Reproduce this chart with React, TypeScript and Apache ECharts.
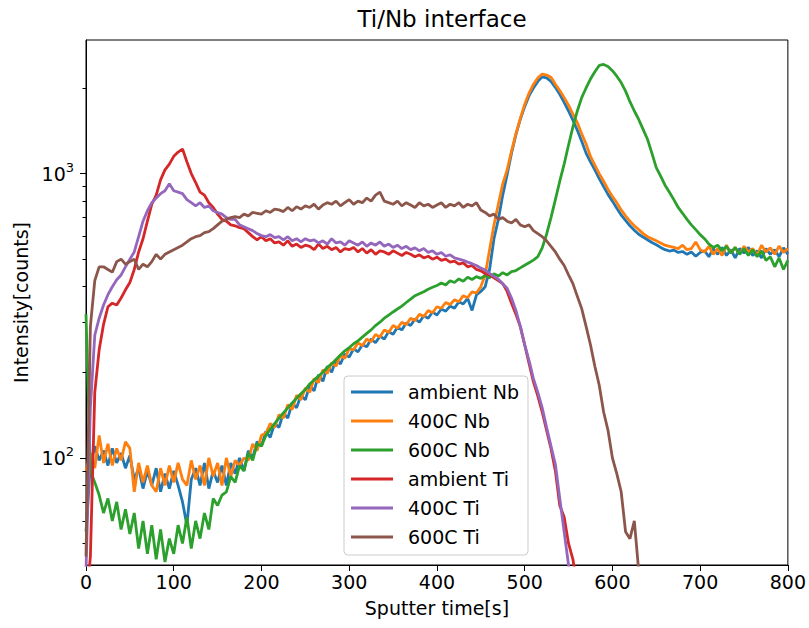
import React, { useEffect, useRef } from "react";
import * as echarts from "echarts";

// ---- data ----
const TIMES = [
  0, 5, 10, 15, 20, 25, 30, 35, 40, 45, 50, 55, 60, 65, 70, 75, 80, 85, 90, 95, 100,
  105, 110, 115, 120, 125, 130, 135, 140, 145, 150, 155, 160, 165, 170, 175, 180, 185, 190, 195, 200,
  205, 210, 215, 220, 225, 230, 235, 240, 245, 250, 255, 260, 265, 270, 275, 280, 285, 290, 295, 300,
  305, 310, 315, 320, 325, 330, 335, 340, 345, 350, 355, 360, 365, 370, 375, 380, 385, 390, 395, 400,
  405, 410, 415, 420, 425, 430, 435, 440, 445, 450, 455, 460, 465, 470, 475, 480, 485, 490, 495, 500,
  505, 510, 515, 520, 525, 530, 535, 540, 545, 550, 555, 560, 565, 570, 575, 580, 585, 590, 595, 600,
  605, 610, 615, 620, 625, 630, 635, 640, 645, 650, 655, 660, 665, 670, 675, 680, 685, 690, 695, 700,
  705, 710, 715, 720, 725, 730, 735, 740, 745, 750, 755, 760, 765, 770, 775, 780, 785, 790, 795, 800,
];

const AMBIENT_NB = [
  55, 95, 110, 98, 106, 94, 108, 96, 104, 92, 102, 84, 92, 78, 90, 80, 92, 76, 88, 78, 90,
  80, 70, 58, 84, 92, 80, 96, 78, 90, 82, 94, 80, 96, 88, 100, 90, 106, 100, 114, 110,
  124, 118, 132, 128, 144, 138, 156, 150, 166, 160, 180, 172, 196, 186, 210, 200, 222, 214, 232, 226,
  242, 236, 250, 246, 262, 254, 268, 262, 278, 272, 288, 282, 298, 292, 308, 300, 316, 310, 326, 318,
  334, 328, 342, 336, 354, 348, 364, 330, 374, 385, 400, 460, 590, 690, 840, 990, 1180, 1370, 1550, 1720,
  1880, 2000, 2110, 2190, 2170, 2110, 2010, 1900, 1780, 1660, 1540, 1420, 1300, 1180, 1100, 1030, 960, 900, 845, 800,
  755, 715, 685, 655, 632, 612, 598, 585, 572, 562, 550, 540, 534, 538, 528, 532, 520, 530, 512, 528,
  535, 510, 545, 520, 550, 515, 540, 505, 545, 525, 550, 515, 535, 505, 545, 520, 540, 510, 548, 520,
];

const NB_400C = [
  90, 104, 92, 120, 96, 112, 94, 108, 98, 114, 108, 76, 96, 82, 94, 80, 76, 92, 80, 94, 82,
  96, 84, 80, 98, 84, 94, 80, 100, 86, 96, 80, 100, 86, 98, 94, 100, 98, 112, 106, 120,
  122, 132, 128, 142, 138, 154, 148, 166, 160, 176, 170, 190, 184, 204, 198, 216, 210, 230, 224, 242,
  240, 254, 248, 262, 256, 272, 266, 282, 276, 292, 286, 300, 294, 310, 304, 320, 314, 330, 324, 340,
  336, 352, 346, 360, 354, 372, 366, 384, 380, 400, 440, 540, 660, 780, 920, 1030, 1200, 1380, 1560, 1750,
  1920, 2060, 2170, 2240, 2220, 2180, 2060, 1960, 1850, 1740, 1620, 1510, 1380, 1270, 1150, 1070, 1000, 940, 880, 830,
  790, 745, 710, 680, 655, 635, 615, 600, 590, 580, 570, 560, 555, 550, 545, 560, 540, 545, 575, 540,
  530, 555, 520, 545, 515, 560, 525, 550, 520, 555, 530, 545, 515, 560, 530, 548, 520, 556, 528, 545,
];

const NB_600C = [
  320, 90, 82, 74, 64, 72, 60, 70, 56, 66, 54, 64, 48, 60, 46, 58, 44, 56, 43, 52, 46,
  58, 50, 62, 48, 60, 52, 64, 56, 72, 68, 74, 76, 86, 82, 94, 90, 104, 98, 112, 110,
  120, 126, 132, 138, 144, 150, 156, 162, 168, 174, 182, 188, 194, 200, 208, 214, 222, 230, 238, 244,
  252, 258, 266, 274, 282, 292, 300, 310, 318, 326, 334, 342, 352, 362, 372, 378, 384, 392, 398, 404,
  412, 406, 420, 414, 426, 418, 432, 424, 434, 428, 438, 430, 444, 436, 448, 440, 452, 456, 466, 476,
  486, 496, 510, 548, 612, 700, 810, 940, 1080, 1260, 1460, 1660, 1850, 2000, 2150, 2280, 2400, 2420, 2380, 2300,
  2200, 2090, 1950, 1790, 1660, 1550, 1430, 1320, 1180, 1050, 980, 910, 860, 810, 760, 725, 690, 660, 635, 610,
  590, 565, 550, 560, 535, 555, 525, 550, 520, 545, 515, 540, 510, 535, 495, 510, 470, 505, 460, 495,
];

const AMBIENT_TI = [
  30, 45, 170, 240, 295, 340, 350, 345, 365, 390, 414, 460, 530, 590, 680, 780, 840, 950, 1030, 1080, 1150,
  1190, 1220, 1100, 1000, 930, 860, 840, 790, 760, 720, 690, 680, 660, 655, 645, 640, 620, 600, 585, 600,
  580, 590, 570, 575, 560, 580, 555, 565, 550, 560, 555, 540, 565, 545, 555, 540, 550, 530, 545, 540,
  550, 530, 545, 525, 540, 520, 535, 530, 520, 535, 525, 515, 528, 520, 510, 518, 505, 512, 500, 508,
  495, 500, 488, 492, 480, 485, 470, 475, 460, 455, 445, 440, 430, 420, 410, 385, 350, 320, 290, 250,
  215, 185, 165, 145, 125, 108, 90, 68, 62, 50, 44, 35, 30,
];

const TI_400C = [
  40, 150, 270, 310, 345, 375, 400, 423, 440, 470, 500, 530, 600, 680, 740, 790, 820, 850, 870, 920, 870,
  860, 850, 810, 790, 770, 790, 760, 770, 740, 730, 720, 700, 690, 690, 660, 650, 640, 630, 615, 605,
  600, 610, 595, 600, 585, 600, 580, 590, 575, 590, 580, 585, 570, 580, 565, 590, 570, 575, 560, 580,
  570, 560, 575, 555, 570, 560, 575, 555, 565, 550, 560, 545, 555, 540, 548, 535, 545, 528, 535, 520,
  528, 512, 518, 505, 500, 495, 488, 482, 475, 465, 458, 445, 435, 425, 410, 395, 365, 330, 290, 250,
  220, 190, 170, 150, 128, 110, 95, 72, 55, 42, 30,
];

const TI_600C = [
  45, 290, 420, 470, 470, 460, 450, 490, 500, 480, 490, 500, 460, 480, 470, 490, 520, 500, 520, 530, 540,
  550, 560, 575, 590, 600, 605, 620, 625, 640, 660, 680, 690, 700, 705, 700, 720, 710, 730, 725, 720,
  740, 730, 750, 745, 735, 760, 740, 765, 750, 770, 760, 780, 750, 775, 790, 780, 800, 770, 790, 810,
  780, 800, 790, 820, 800, 840, 860, 800, 790, 780, 800, 770, 790, 775, 760, 790, 770, 780, 760, 775,
  790, 760, 780, 770, 790, 760, 780, 770, 790, 745, 730, 710, 720, 690, 700, 680, 670, 690, 660, 650,
  660, 630, 615, 600, 580, 555, 530, 500, 475, 440, 410, 370, 335, 290, 250, 210, 180, 145, 125, 100,
  88, 76, 55, 52, 60, 40, 30,
];

const SERIES_NAMES = ["ambient Nb", "400C Nb", "600C Nb", "ambient Ti", "400C Ti", "600C Ti"];
const SERIES_VALUES = [AMBIENT_NB, NB_400C, NB_600C, AMBIENT_TI, TI_400C, TI_600C];
const COLORS = ["#1f77b4", "#ff7f0e", "#2ca02c", "#d62728", "#9467bd", "#8c564b"];

const X_TICKS = { min: 0, max: 800, interval: 100 };
const Y_RANGE = { min: 42, max: 2950 };
const Y_MAJOR_TICKS = [100, 1000];
const Y_MINOR_TICKS = [50, 60, 70, 80, 90, 200, 300, 400, 500, 600, 700, 800, 900, 2000];

const FONT = "'DejaVu Sans', sans-serif";

export default function App() {
  const ref = useRef<HTMLDivElement>(null);

  useEffect(() => {
    if (!ref.current) return;
    const chart = echarts.init(ref.current, undefined, { renderer: "svg" });

    const series = SERIES_NAMES.map((name, k) => ({
      name,
      type: "line",
      yAxisIndex: 0,
      symbol: "none",
      color: COLORS[k],
      lineStyle: { width: 2.8, color: COLORS[k] },
      data: SERIES_VALUES[k].map((v, i) => [TIMES[i], v]),
    }));

    const axisLineStyle = { color: "#000", width: 1 };
    const textBase = { fontFamily: FONT, fontSize: 19, color: "#000" };

    chart.setOption({
      animation: false,
      backgroundColor: "#ffffff",
      title: {
        text: "Ti/Nb interface",
        left: 437,
        top: 2,
        textAlign: "center",
        textStyle: { fontFamily: FONT, fontSize: 23, fontWeight: "normal", color: "#000" },
      },
      grid: {
        left: 86,
        top: 40,
        right: 20,
        bottom: 63,
        show: true,
        borderColor: "#000",
        borderWidth: 1,
        backgroundColor: "transparent",
      },
      legend: {
        orient: "vertical",
        left: 344,
        top: 376,
        padding: [6, 9, 8, 7],
        itemWidth: 42,
        itemHeight: 3,
        itemGap: 9,
        icon: "rect",
        backgroundColor: "rgba(255,255,255,0.8)",
        borderColor: "#cccccc",
        borderWidth: 1,
        borderRadius: 4,
        textStyle: { ...textBase, padding: [0, 0, 0, 10], lineHeight: 20 },
        data: SERIES_NAMES,
      },
      xAxis: {
        type: "value",
        min: X_TICKS.min,
        max: X_TICKS.max,
        interval: X_TICKS.interval,
        axisLine: { show: true, lineStyle: axisLineStyle },
        axisTick: { show: true, length: 6, lineStyle: axisLineStyle },
        axisLabel: { ...textBase, margin: 7 },
        splitLine: { show: false },
        name: "Sputter time[s]",
        nameLocation: "middle",
        nameGap: 33,
        nameTextStyle: textBase,
      },
      yAxis: [
        {
          type: "log",
          logBase: 10,
          min: Y_RANGE.min,
          max: Y_RANGE.max,
          position: "left",
          offset: 0,
          axisLine: { show: true, lineStyle: axisLineStyle },
          axisTick: { show: true, length: 6, lineStyle: axisLineStyle, customValues: Y_MAJOR_TICKS },
          axisLabel: {
            customValues: Y_MAJOR_TICKS,
            margin: 12,
            formatter: (v: number) => `{b|10}{s|${Math.round(Math.log10(v))}}`,
            rich: {
              b: { fontFamily: FONT, fontSize: 19, color: "#000" },
              s: { fontFamily: FONT, fontSize: 13, color: "#000", padding: [0, 0, 12, 0] },
            },
          },
          splitLine: { show: false },
          minorTick: { show: false },
          name: "Intensity[counts]",
          nameLocation: "middle",
          nameGap: 52,
          nameTextStyle: textBase,
        },
        {
          type: "log",
          logBase: 10,
          min: Y_RANGE.min,
          max: Y_RANGE.max,
          position: "left",
          offset: 0,
          axisLine: { show: false },
          axisTick: { show: true, length: 3.5, lineStyle: axisLineStyle, customValues: Y_MINOR_TICKS },
          axisLabel: { show: false },
          splitLine: { show: false },
        },
      ],
      series,
    });

    return () => chart.dispose();
  }, []);

  return (
    <div
      ref={ref}
      style={{ position: "fixed", left: 0, top: 0, width: 809, height: 628, background: "#fff" }}
    />
  );
}
